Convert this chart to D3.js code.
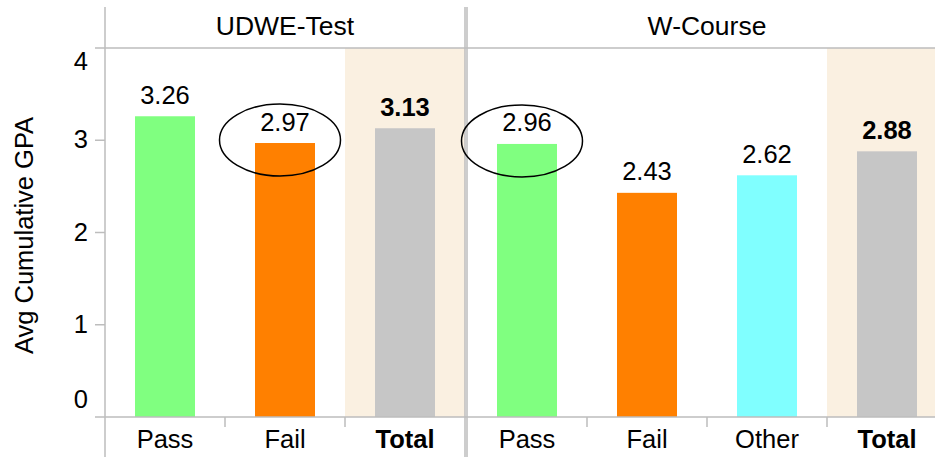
<!DOCTYPE html>
<html>
<head>
<meta charset="utf-8">
<script src="https://cdn.jsdelivr.net/npm/d3@7"></script>
<style>
	body { margin: 0; background: #fff; }
	text { font-family: "Liberation Sans", Arial, sans-serif; fill: #000; }
</style>
</head>
<body>
<div id="chart"></div>
<script>
	var panels = ["UDWE-Test", "W-Course"];
	var udweCategories = ["Pass", "Fail", "Total"];
	var udweValues = [3.26, 2.97, 3.13];
	var wcourseCategories = ["Pass", "Fail", "Other", "Total"];
	var wcourseValues = [2.96, 2.43, 2.62, 2.88];
	var yTicks = [0, 1, 2, 3, 4];
	var circled = [["UDWE-Test", "Fail"], ["W-Course", "Pass"]];

	var colors = { Pass: "#80ff80", Fail: "#ff8000", Other: "#80ffff", Total: "#c6c6c6" };
	var lineColor = "#bdbdbd";

	var width = 935, height = 457;
	var plotLeft = 105, plotTop = 48, plotBottom = 417, headerTop = 7;
	var bandW = 120, gap = 2;
	var fontSize = "25.5px";

	var svg = d3.select("#chart")
		.append("svg")
		.attr("width", width)
		.attr("height", height);

	var y = d3.scaleLinear()
		.domain([0, 4])
		.range([plotBottom, plotTop]);

	var data = [
		{ name: panels[0], cats: udweCategories, vals: udweValues },
		{ name: panels[1], cats: wcourseCategories, vals: wcourseValues }
	];

	// lay the panels side by side
	var x0 = plotLeft;
	data.forEach(function(p) {
		p.x = d3.scaleBand().domain(p.cats).range([x0, x0 + bandW * p.cats.length]);
		p.start = x0;
		p.end = x0 + bandW * p.cats.length;
		x0 = p.end + gap;
	});

	// total highlight background
	data.forEach(function(p) {
		svg.append("rect")
			.attr("x", p.x("Total"))
			.attr("y", y(4))
			.attr("width", p.x.bandwidth())
			.attr("height", y(0) - y(4))
			.style("fill", "#faf0e1");
	});

	// bars and labels
	data.forEach(function(p) {
		var rows = p.cats.map(function(c, i) { return { cat: c, val: p.vals[i] }; });
		var bw = p.x.bandwidth() / 2;

		svg.selectAll(".bar-" + p.start)
			.data(rows)
			.enter().append("rect")
			.attr("x", function(d) { return p.x(d.cat) + bw / 2; })
			.attr("y", function(d) { return y(d.val); })
			.attr("width", bw)
			.attr("height", function(d) { return y(0) - y(d.val); })
			.style("fill", function(d) { return colors[d.cat]; });

		svg.selectAll(".val-" + p.start)
			.data(rows)
			.enter().append("text")
			.text(function(d) { return d.val.toFixed(2); })
			.attr("x", function(d) { return p.x(d.cat) + p.x.bandwidth() / 2; })
			.attr("y", function(d) { return y(d.val) - 12.5; })
			.style("text-anchor", "middle")
			.style("font-size", fontSize)
			.style("font-weight", function(d) { return d.cat == "Total" ? "bold" : "normal"; });

		svg.selectAll(".cat-" + p.start)
			.data(rows)
			.enter().append("text")
			.text(function(d) { return d.cat; })
			.attr("x", function(d) { return p.x(d.cat) + p.x.bandwidth() / 2; })
			.attr("y", 448)
			.style("text-anchor", "middle")
			.style("font-size", fontSize)
			.style("font-weight", function(d) { return d.cat == "Total" ? "bold" : "normal"; });

		svg.append("text")
			.text(p.name)
			.attr("x", (p.start + p.end) / 2)
			.attr("y", 35)
			.style("text-anchor", "middle")
			.style("font-size", "26.5px");

		// category separators below the axis
		svg.selectAll(".sep-" + p.start)
			.data(p.cats.slice(1))
			.enter().append("line")
			.attr("x1", function(d) { return p.x(d); })
			.attr("x2", function(d) { return p.x(d); })
			.attr("y1", plotBottom)
			.attr("y2", plotBottom + 10)
			.style("stroke", lineColor)
			.style("stroke-width", 1.5);
	});

	// frame lines
	svg.append("line")
		.attr("x1", plotLeft - 10).attr("x2", width)
		.attr("y1", y(4)).attr("y2", y(4))
		.style("stroke", lineColor).style("stroke-width", 1.5);
	svg.append("line")
		.attr("x1", plotLeft - 10).attr("x2", width)
		.attr("y1", y(0)).attr("y2", y(0))
		.style("stroke", lineColor).style("stroke-width", 1.5);

	var verticals = [plotLeft, data[0].end, data[1].start];
	svg.selectAll(".vline")
		.data(verticals)
		.enter().append("line")
		.attr("x1", function(d) { return d; })
		.attr("x2", function(d) { return d; })
		.attr("y1", headerTop)
		.attr("y2", height)
		.style("stroke", lineColor)
		.style("stroke-width", 1.5);

	// y axis ticks
	svg.selectAll(".ytick")
		.data(yTicks.slice(1, -1))
		.enter().append("line")
		.attr("x1", plotLeft - 10).attr("x2", plotLeft)
		.attr("y1", function(d) { return y(d); })
		.attr("y2", function(d) { return y(d); })
		.style("stroke", lineColor)
		.style("stroke-width", 1.5);

	svg.selectAll(".ylabel")
		.data(yTicks)
		.enter().append("text")
		.text(function(d) { return d; })
		.attr("x", 88)
		.attr("y", function(d) {
			if (d == 4) return y(d) + 22;
			if (d == 0) return y(d) - 9;
			return y(d) + 8;
		})
		.style("text-anchor", "end")
		.style("font-size", fontSize);

	svg.append("text")
		.text("Avg Cumulative GPA")
		.attr("transform", "translate(33,235.5) rotate(-90)")
		.style("text-anchor", "middle")
		.style("font-size", fontSize);

	// ellipses round the circled values
	circled.forEach(function(c) {
		var p = data[panels.indexOf(c[0])];
		var v = p.vals[p.cats.indexOf(c[1])];
		svg.append("ellipse")
			.attr("cx", p.x(c[1]) + p.x.bandwidth() / 2 - 5)
			.attr("cy", y(v) - 3)
			.attr("rx", 60.5)
			.attr("ry", 36)
			.style("fill", "none")
			.style("stroke", "#000")
			.style("stroke-width", 1.5);
	});
</script>
</body>
</html>
